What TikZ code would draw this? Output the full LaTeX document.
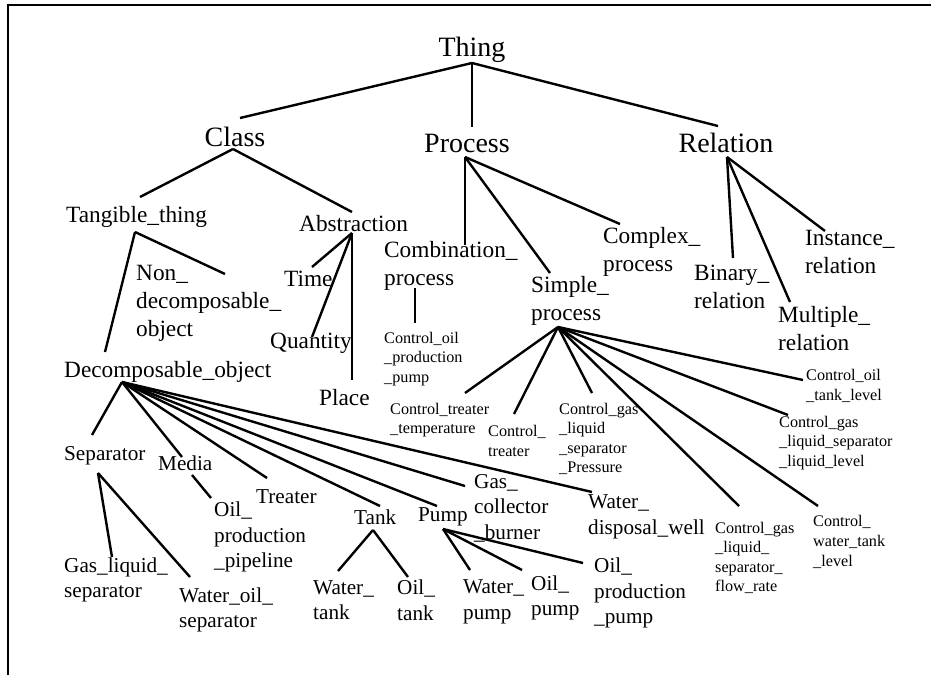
\documentclass[tikz,border=0pt]{standalone}
\usepackage{fontspec}
\setmainfont{Liberation Serif}

\begin{document}
\begin{tikzpicture}[x=0.5pt, y=-0.5pt, line width=1.2pt,
  every node/.style={inner sep=0pt, anchor=west, align=left},
  big/.style={font=\fontsize{14}{16}\selectfont, anchor=center},
  mid/.style={font=\fontsize{11.65}{14}\selectfont},
  low/.style={font=\fontsize{10.6}{12.75}\selectfont},
  ctl/.style={font=\fontsize{8.1}{9.8}\selectfont}]
\useasboundingbox (0,0) rectangle (931,675);
\draw (931,5) -- (8,5) -- (8,675);

\node[big] (thing) at (472,50) {Thing};
\node[big] (class) at (235,137) {Class};
\node[big] (process) at (467,143) {Process};
\node[big] (relation) at (726,143) {Relation};

\node[mid] (tang) at (65,217) {Tangible\_thing};
\node[mid] (abst) at (298,224) {Abstraction};
\node[mid] (non) at (135,303) {Non\_\\decomposable\_\\object};
\node[mid] (time) at (283,279) {Time};
\node[mid] (quant) at (269,343) {Quantity};
\node[mid] (place) at (318,398) {Place};
\node[mid] (dec) at (63,372) {Decomposable\_object};
\node[mid] (comb) at (383,266) {Combination\_\\process};
\node[mid] (cpx) at (602,252) {Complex\_\\process};
\node[mid] (simp) at (530,301) {Simple\_\\process};
\node[mid] (bin) at (693,287) {Binary\_\\relation};
\node[mid] (inst) at (804,252) {Instance\_\\relation};
\node[mid] (mult) at (777,329) {Multiple\_\\relation};

\node[low] (sep) at (63,456) {Separator};
\node[low] (media) at (157,463) {Media};
\node[low] (treat) at (255,497) {Treater};
\node[low] (oilpipe) at (213,537) {Oil\_\\production\\\_pipeline};
\node[low] (tank) at (353,517) {Tank};
\node[low] (pump) at (417,517) {Pump};
\node[low] (gasc) at (473,508) {Gas\_\\collector\\\_burner};
\node[low] (wdw) at (587,517) {Water\_\\disposal\_well};
\node[low] (gls) at (63,580) {Gas\_liquid\_\\separator};
\node[low] (wos) at (178,610) {Water\_oil\_\\separator};
\node[low] (wtank) at (312,600) {Water\_\\tank};
\node[low] (otank) at (396,600) {Oil\_\\tank};
\node[low] (wpump) at (462,602) {Water\_\\pump};
\node[low] (opump) at (530,598) {Oil\_\\pump};
\node[low] (oppump) at (593,593) {Oil\_\\production\\\_pump};

\node[ctl] (copp) at (383,359) {Control\_oil\\\_production\\\_pump};
\node[ctl] (ctt) at (389,420) {Control\_treater\\\_temperature};
\node[ctl] (ctr) at (487,441) {Control\_\\treater};
\node[ctl] (cgp) at (558,439) {Control\_gas\\\_liquid\\\_separator\\\_Pressure};
\node[ctl] (cgf) at (714,558) {Control\_gas\\\_liquid\_\\separator\_\\flow\_rate};
\node[ctl] (cwt) at (812,542) {Control\_\\water\_tank\\\_level};
\node[ctl] (cgl) at (778,443) {Control\_gas\\\_liquid\_separator\\\_liquid\_level};
\node[ctl] (cot) at (805,386) {Control\_oil\\\_tank\_level};

\draw ([shift={(0,13)}]thing.center) -- ([shift={(5,-19)}]class.center);
\draw ([shift={(0,13)}]thing.center) -- ([shift={(5,-16)}]process.center);
\draw ([shift={(0,13)}]thing.center) -- ([shift={(-8,-17)}]relation.center);

\draw ([shift={(-2,12)}]class.center) -- ([shift={(75,-20)}]tang.west);
\draw ([shift={(-2,12)}]class.center) -- ([shift={(54,-12)}]abst.west);

\draw ([shift={(-2,14)}]process.center) -- ([shift={(82,-21)}]comb.west);
\draw ([shift={(-2,14)}]process.center) -- ([shift={(20,-28)}]simp.west);
\draw ([shift={(-2,14)}]process.center) -- ([shift={(18,-28)}]cpx.west);

\draw ([shift={(1,14)}]relation.center) -- ([shift={(40,-29)}]bin.west);
\draw ([shift={(1,14)}]relation.center) -- ([shift={(13,-27)}]mult.west);
\draw ([shift={(1,14)}]relation.center) -- ([shift={(21,-21)}]inst.west);

\draw ([shift={(70,15)}]tang.west) -- ([shift={(42,-20)}]dec.west);
\draw ([shift={(70,15)}]tang.west) -- ([shift={(90,-29)}]non.west);

\draw ([shift={(54,9)}]abst.west) -- ([shift={(29,-12)}]time.west);
\draw ([shift={(54,9)}]abst.west) -- ([shift={(43,-6)}]quant.west);
\draw ([shift={(54,9)}]abst.west) -- ([shift={(34,-18)}]place.west);

\draw ([shift={(32,22)}]comb.west) -- ([shift={(32,-36)}]copp.west);

\draw ([shift={(28,26)}]simp.west) -- ([shift={(76,-27)}]ctt.west);
\draw ([shift={(28,26)}]simp.west) -- ([shift={(27,-27)}]ctr.west);
\draw ([shift={(28,26)}]simp.west) -- ([shift={(34,-46)}]cgp.west);
\draw ([shift={(28,26)}]simp.west) -- ([shift={(25,-52)}]cgf.west);
\draw ([shift={(28,26)}]simp.west) -- ([shift={(6,-36)}]cwt.west);
\draw ([shift={(28,26)}]simp.west) -- ([shift={(10,-28)}]cgl.west);
\draw ([shift={(28,26)}]simp.west) -- ([shift={(-2,-6)}]cot.west);

\draw ([shift={(59,10)}]dec.west) -- ([shift={(29,-21)}]sep.west);
\draw ([shift={(59,10)}]dec.west) -- ([shift={(25,-6)}]media.west);
\draw ([shift={(59,10)}]dec.west) -- ([shift={(12,-19)}]treat.west);
\draw ([shift={(59,10)}]dec.west) -- ([shift={(27,-11)}]tank.west);
\draw ([shift={(59,10)}]dec.west) -- ([shift={(20,-11)}]pump.west);
\draw ([shift={(59,10)}]dec.west) -- ([shift={(-8,-22)}]gasc.west);
\draw ([shift={(59,10)}]dec.west) -- ([shift={(5,-25)}]wdw.west);

\draw ([shift={(35,12)}]media.west) -- ([shift={(-2,-39)}]oilpipe.west);

\draw ([shift={(35,17)}]sep.west) -- ([shift={(49,-23)}]gls.west);
\draw ([shift={(35,17)}]sep.west) -- ([shift={(12,-33)}]wos.west);

\draw ([shift={(20,13)}]tank.west) -- ([shift={(26,-29)}]wtank.west);
\draw ([shift={(20,13)}]tank.west) -- ([shift={(12,-23)}]otank.west);

\draw ([shift={(26,12)}]pump.west) -- ([shift={(8,-32)}]wpump.west);
\draw ([shift={(26,12)}]pump.west) -- ([shift={(-8,-28)}]opump.west);
\draw ([shift={(26,12)}]pump.west) -- ([shift={(-10,-30)}]oppump.west);
\end{tikzpicture}
\end{document}
